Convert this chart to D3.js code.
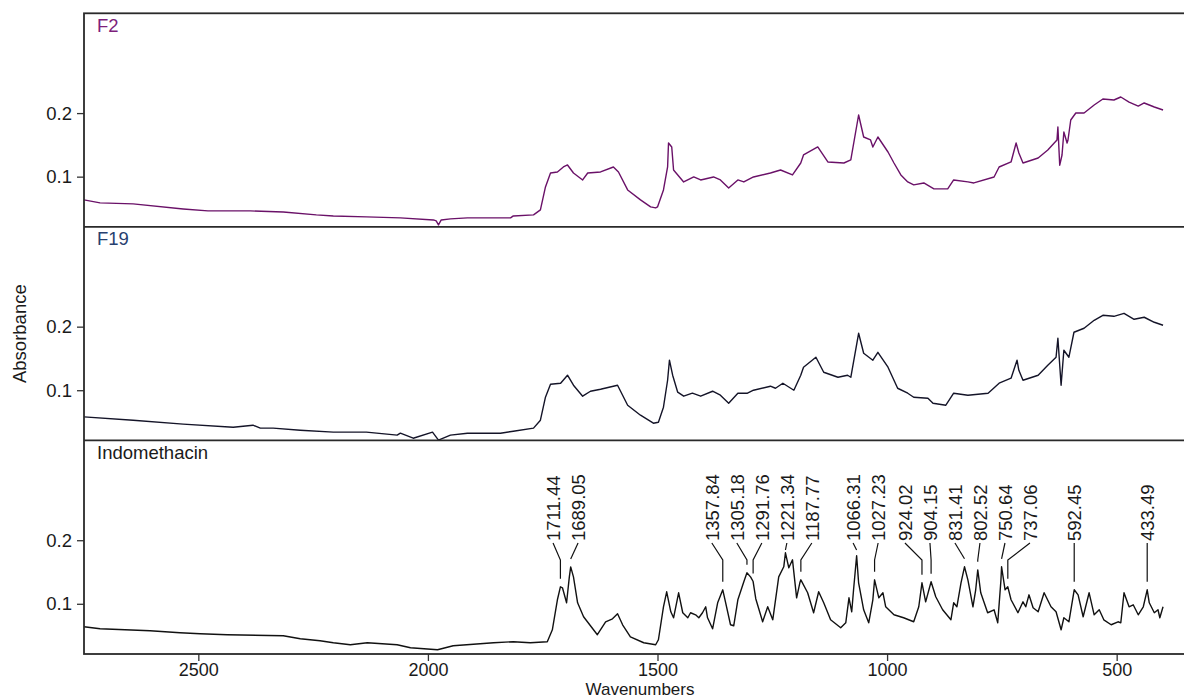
<!DOCTYPE html>
<html><head><meta charset="utf-8">
<script src="https://cdn.jsdelivr.net/npm/d3@7"></script>
<style>body{margin:0;background:#fff;} svg{display:block;font-family:"Liberation Sans",Arial,sans-serif;}</style>
</head><body><svg id="c" width="1184" height="699"></svg>
<script>
// ---------- data ----------
const xTicks = [2500, 2000, 1500, 1000, 500];
const yTicks = [0.1, 0.2];
const seriesNames = ["F2", "F19", "Indomethacin"];
const xTitle = "Wavenumbers";
const yTitle = "Absorbance";

// [wavenumber (cm-1), absorbance]
const f2 = [[2749,0.0634],[2714,0.0587],[2642,0.0571],[2533,0.0492],[2479,0.0461],[2387,0.0461],[2315,0.0445],[2243,0.0398],[2206,0.0382],[2134,0.0367],[2060,0.0351],[1988,0.0319],[1982,0.0304],[1977,0.0241],[1971,0.0319],[1951,0.0335],[1914,0.0351],[1820,0.0351],[1814,0.0382],[1770,0.0398],[1755,0.0477],[1744,0.0838],[1733,0.1058],[1718,0.1074],[1705,0.1152],[1696,0.1184],[1683,0.1058],[1663,0.0948],[1652,0.1058],[1624,0.1074],[1596,0.1152],[1585,0.1074],[1565,0.0791],[1537,0.0634],[1515,0.0524],[1504,0.0508],[1500,0.0524],[1487,0.0791],[1478,0.1152],[1476,0.1530],[1469,0.1467],[1465,0.1105],[1443,0.0917],[1421,0.0995],[1406,0.0948],[1378,0.0995],[1363,0.0948],[1345,0.0822],[1325,0.0948],[1312,0.0917],[1291,0.0995],[1254,0.1058],[1232,0.1105],[1206,0.1027],[1188,0.1215],[1182,0.1341],[1151,0.1467],[1129,0.1231],[1094,0.1215],[1079,0.1263],[1062,0.1970],[1051,0.1624],[1036,0.1577],[1031,0.1467],[1020,0.1624],[998,0.1388],[985,0.1215],[970,0.1027],[955,0.0917],[942,0.0870],[920,0.0901],[898,0.0807],[868,0.0807],[855,0.0948],[824,0.0917],[811,0.0901],[767,0.0995],[756,0.1152],[730,0.1231],[719,0.1530],[713,0.1373],[704,0.1215],[671,0.1294],[650,0.1420],[630,0.1577],[628,0.1781],[624,0.1180],[619,0.1341],[615,0.1703],[608,0.1530],[606,0.1577],[600,0.1891],[589,0.2001],[571,0.2001],[549,0.2127],[530,0.2221],[506,0.2206],[491,0.2253],[473,0.2174],[453,0.2111],[440,0.2159],[418,0.2096],[399,0.2049]];

const f19 = [[2749,0.0580],[2642,0.0528],[2533,0.0466],[2424,0.0418],[2381,0.0450],[2365,0.0403],[2337,0.0403],[2278,0.0371],[2206,0.0340],[2134,0.0340],[2067,0.0293],[2060,0.0324],[2032,0.0245],[1990,0.0340],[1977,0.0214],[1951,0.0293],[1914,0.0324],[1842,0.0324],[1814,0.0355],[1770,0.0403],[1755,0.0528],[1744,0.0890],[1733,0.1094],[1711,0.1110],[1696,0.1236],[1683,0.1079],[1663,0.0906],[1646,0.0984],[1624,0.1016],[1587,0.1079],[1565,0.0764],[1537,0.0607],[1509,0.0481],[1498,0.0497],[1487,0.0733],[1478,0.1157],[1474,0.1472],[1467,0.1236],[1456,0.0969],[1443,0.0906],[1424,0.0953],[1406,0.0906],[1380,0.0984],[1363,0.0921],[1345,0.0796],[1325,0.0953],[1304,0.0953],[1291,0.1000],[1254,0.1063],[1243,0.1031],[1227,0.1110],[1203,0.1000],[1188,0.1236],[1182,0.1362],[1155,0.1519],[1138,0.1283],[1107,0.1204],[1086,0.1236],[1079,0.1204],[1062,0.1896],[1051,0.1582],[1031,0.1472],[1020,0.1597],[998,0.1362],[977,0.1031],[955,0.0953],[942,0.0890],[911,0.0874],[900,0.0796],[872,0.0764],[855,0.0953],[824,0.0921],[780,0.0953],[756,0.1110],[730,0.1189],[717,0.1472],[713,0.1314],[704,0.1157],[671,0.1236],[650,0.1393],[632,0.1519],[628,0.1817],[621,0.1079],[615,0.1629],[604,0.1519],[593,0.1912],[571,0.1975],[549,0.2100],[530,0.2179],[506,0.2163],[484,0.2210],[462,0.2116],[440,0.2148],[418,0.2069],[399,0.2022]];

const indo = [[2749,0.0638],[2714,0.0607],[2605,0.0576],[2540,0.0544],[2496,0.0528],[2437,0.0513],[2315,0.0497],[2278,0.0450],[2235,0.0418],[2206,0.0387],[2169,0.0355],[2132,0.0387],[2067,0.0355],[2038,0.0308],[1979,0.0277],[1945,0.0340],[1857,0.0387],[1814,0.0403],[1777,0.0387],[1740,0.0403],[1729,0.0591],[1718,0.1063],[1711.44,0.1267],[1707,0.1252],[1698,0.1016],[1692,0.1424],[1689.05,0.1580],[1683,0.1424],[1674,0.1016],[1661,0.0796],[1631,0.0513],[1613,0.0717],[1598,0.0764],[1587,0.0843],[1576,0.0670],[1559,0.0481],[1530,0.0387],[1504,0.0355],[1498,0.0434],[1487,0.0953],[1480,0.1189],[1471,0.0874],[1465,0.0780],[1454,0.1173],[1445,0.0859],[1434,0.0780],[1428,0.0859],[1417,0.0827],[1410,0.0780],[1402,0.0859],[1395,0.0953],[1391,0.0780],[1380,0.0607],[1369,0.1016],[1357.84,0.1220],[1352,0.1031],[1341,0.0670],[1334,0.0654],[1325,0.1063],[1312,0.1346],[1305.18,0.1487],[1297,0.1420],[1291.76,0.1350],[1286,0.1080],[1271,0.0717],[1260,0.0953],[1249,0.0748],[1236,0.1424],[1225,0.1582],[1221.34,0.1802],[1214,0.1566],[1206,0.1692],[1197,0.1094],[1190,0.1330],[1187.77,0.1377],[1173,0.1173],[1160,0.0859],[1149,0.1189],[1138,0.1016],[1123,0.0748],[1101,0.0623],[1090,0.0701],[1083,0.1094],[1077,0.0874],[1073,0.1220],[1066.31,0.1755],[1062,0.1330],[1051,0.0906],[1040,0.0701],[1031,0.1063],[1027.23,0.1377],[1018,0.1094],[1009,0.1173],[1003,0.0953],[985,0.0827],[964,0.0780],[942,0.0717],[931,0.0953],[924.02,0.1330],[916,0.1031],[904.15,0.1346],[894,0.1110],[879,0.0906],[861,0.0748],[855,0.1016],[848,0.0953],[839,0.1330],[831.41,0.1582],[824,0.1377],[813,0.0953],[807,0.1220],[802.52,0.1534],[796,0.1173],[781,0.0859],[767,0.0906],[759,0.0701],[752,0.1377],[750.64,0.1582],[743,0.1220],[737.06,0.1267],[730,0.1063],[715,0.0859],[704,0.1031],[698,0.0953],[691,0.1141],[682,0.0937],[671,0.0874],[658,0.1173],[643,0.0953],[632,0.0874],[621,0.0591],[615,0.0780],[604,0.0717],[592.45,0.1220],[584,0.1141],[573,0.0796],[560,0.1173],[549,0.0827],[538,0.0906],[528,0.0748],[512,0.0670],[497,0.0717],[491,0.0701],[484,0.1173],[473,0.0953],[464,0.0984],[453,0.0827],[442,0.0953],[433.49,0.1220],[429,0.1016],[418,0.0859],[410,0.0906],[406,0.0780],[399,0.0953]];

const peakLabels = [1711.44, 1689.05, 1357.84, 1305.18, 1291.76, 1221.34, 1187.77, 1066.31, 1027.23, 924.02, 904.15, 831.41, 802.52, 750.64, 737.06, 592.45, 433.49];

// ---------- layout ----------
const mLeft = 84, mRight = 1186, mTop = 13.3, mBottom = 654;
const ph = (mBottom - mTop) / 3;
const fontSize = 18.5;
const svg = d3.select("#c");

const x = d3.scaleLinear().domain([2749, 349]).range([mLeft, mRight]);

const panels = [
  {name: seriesNames[0], data: f2,   line: "#6a1168", label: "#7d1f7b"},
  {name: seriesNames[1], data: f19,  line: "#141428", label: "#27406f"},
  {name: seriesNames[2], data: indo, line: "#111111", label: "#1a1a1a"}
];

panels.forEach((p, i) => {
  const y0 = mTop + i * ph, y1 = y0 + ph;
  const y = d3.scaleLinear().domain([0.021, 0.357]).range([y1, y0]);
  p.y = y;
  const g = svg.append("g");
  const ax = g.append("g").attr("transform", `translate(${mLeft},0)`)
    .call(d3.axisLeft(y).tickValues(yTicks).tickSize(7).tickPadding(5).tickFormat(d3.format(".1f")));
  ax.select(".domain").remove();
  ax.selectAll("line").attr("stroke", "#333").attr("stroke-width", 1.3);
  ax.selectAll("text").attr("font-size", fontSize).attr("fill", "#1a1a1a").attr("font-family", '"Liberation Sans",Arial,sans-serif');

  const line = d3.line().x(d => x(d[0])).y(d => y(d[1]));
  g.append("path").datum(p.data).attr("d", line)
    .attr("fill", "none").attr("stroke", p.line).attr("stroke-width", 1.4)
    .attr("stroke-linejoin", "round");

  g.append("text").attr("x", 97).attr("y", y0 + 18.5).text(p.name)
    .attr("font-size", fontSize).attr("fill", p.label);
});

// ---------- peak annotations (Indomethacin panel) ----------
const yi = panels[2].y;
const gap = 25;
function layoutLabels(px) {
  let clusters = px.map(v => ({items: [v], start: v}));
  let changed = true;
  while (changed) {
    changed = false;
    for (let i = 0; i < clusters.length - 1; i++) {
      const a = clusters[i], b = clusters[i + 1];
      const aEnd = a.start + (a.items.length - 1) * gap;
      if (b.start - aEnd < gap - 0.01) {
        const items = a.items.concat(b.items);
        const m = d3.mean(items);
        clusters.splice(i, 2, {items, start: m - (items.length - 1) * gap / 2});
        changed = true;
        break;
      }
    }
  }
  const out = [];
  clusters.forEach(c => c.items.forEach((_, k) => out.push(c.start + k * gap)));
  return out;
}
const peakPx = peakLabels.map(v => x(v));
const labelPx = layoutLabels(peakPx);
const textBase = 541;
const ga = svg.append("g");
peakLabels.forEach((v, i) => {
  const pt = indo.reduce((b, d) => Math.abs(d[0] - v) < Math.abs(b[0] - v) ? d : b);
  const py = yi(pt[1]);
  const lx = labelPx[i], px = peakPx[i];
  const end = Math.max(py - 8, 550);
  const knee = Math.min(560, end);
  ga.append("path").attr("d", `M${lx},${textBase + 2}L${px},${knee}L${px},${end}`)
    .attr("fill", "none").attr("stroke", "#111").attr("stroke-width", 1.2);
  ga.append("text").attr("transform", `translate(${lx},${textBase}) rotate(-90)`)
    .attr("dy", "0.36em").attr("text-anchor", "start")
    .attr("font-size", fontSize).attr("fill", "#1a1a1a").text(v.toFixed(2));
});

// ---------- x axis ----------
const xa = svg.append("g").attr("transform", `translate(0,${mBottom})`)
  .call(d3.axisBottom(x).tickValues(xTicks).tickSize(7).tickPadding(2).tickFormat(d3.format("d")));
xa.select(".domain").remove();
xa.selectAll("line").attr("stroke", "#333").attr("stroke-width", 1.3);
xa.selectAll("text").attr("font-size", 18).attr("fill", "#1a1a1a").attr("font-family", '"Liberation Sans",Arial,sans-serif');

// ---------- frame ----------
const frame = svg.append("g").attr("fill", "none").attr("stroke", "#2a2a2a").attr("stroke-width", 1.8);
frame.append("rect").attr("x", mLeft).attr("y", mTop).attr("width", mRight + 10 - mLeft).attr("height", mBottom - mTop);
[1, 2].forEach(k => frame.append("line").attr("x1", mLeft).attr("x2", mRight + 10)
  .attr("y1", mTop + k * ph).attr("y2", mTop + k * ph));

// ---------- titles ----------
svg.append("text").attr("x", 640).attr("y", 695.3).attr("text-anchor", "middle")
  .attr("font-size", 17).attr("fill", "#1a1a1a").text(xTitle);
svg.append("text").attr("transform", `translate(26,${(mTop + mBottom) / 2}) rotate(-90)`)
  .attr("text-anchor", "middle").attr("font-size", fontSize).attr("fill", "#1a1a1a").text(yTitle);
</script></body></html>
